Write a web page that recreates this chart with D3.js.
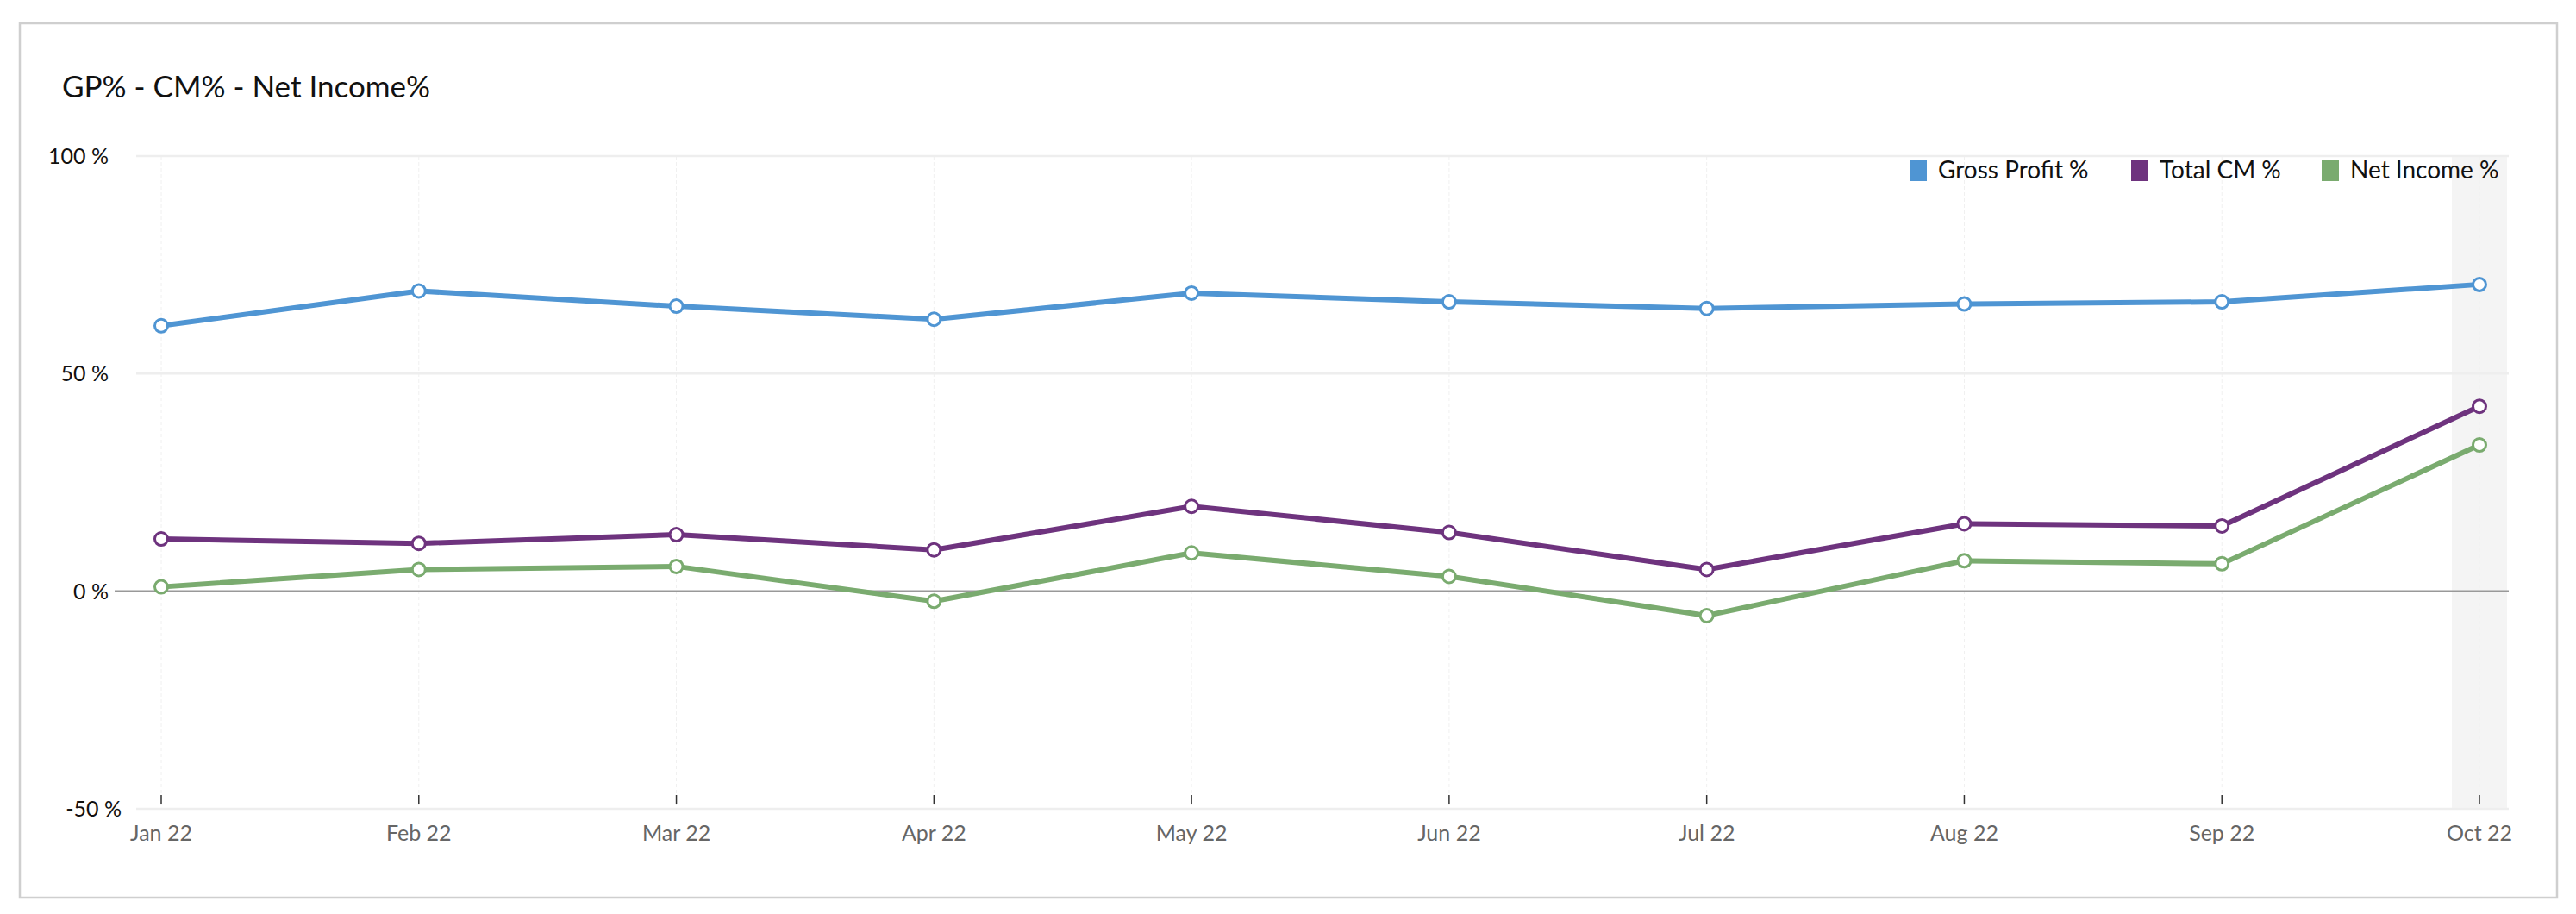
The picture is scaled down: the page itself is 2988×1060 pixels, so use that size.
<!DOCTYPE html>
<html><head><meta charset="utf-8">
<script src="https://cdn.jsdelivr.net/npm/d3@7"></script>
<style>body{margin:0;background:#fff}svg{font-family:Lato,"Noto Sans",sans-serif}</style>
</head><body><svg id="c" width="2988" height="1060"></svg>
<script>
const categories=["Jan 22","Feb 22","Mar 22","Apr 22","May 22","Jun 22","Jul 22","Aug 22","Sep 22","Oct 22"];
const grossProfit=[61,69,65.5,62.5,68.5,66.5,65,66,66.5,70.5];
const totalCM=[12,11,13,9.5,19.5,13.5,5,15.5,15,42.5];
const netIncome=[1,5,5.7,-2.3,8.8,3.4,-5.6,7,6.3,33.6];
const yTicks=[-50,0,50,100];
const seriesNames=["Gross Profit %","Total CM %","Net Income %"];
const colors=["#4f95d3","#6e337e","#7aab6f"];
const series=[grossProfit,totalCM,netIncome];

const svg=d3.select("#c");
svg.append("rect").attr("x",23).attr("y",27).attr("width",2943).attr("height",1014).attr("fill","#fff").attr("stroke","#cfcfcf").attr("stroke-width",2.5);
svg.append("text").attr("x",72).attr("y",113).attr("font-size",35).attr("fill","#111").text("GP% - CM% - Net Income%");

const x=d3.scalePoint().domain(categories).range([187,2876]);
const y=d3.scaleLinear().domain([-50,100]).range([938,181]);
svg.append("rect").attr("x",x("Oct 22")-32).attr("width",64).attr("y",y(100)).attr("height",y(-50)-y(100)).attr("fill","#f4f4f4");
svg.append("g").selectAll("line").data(categories).join("line")
 .attr("x1",d=>x(d)).attr("x2",d=>x(d)).attr("y1",y(100)).attr("y2",y(-50)).attr("stroke","#f0f0f0").attr("stroke-dasharray","4,3");
svg.append("g").selectAll("line").data(yTicks).join("line")
 .attr("x1",d=>d===0?133:158).attr("x2",2910).attr("y1",d=>y(d)).attr("y2",d=>y(d))
 .attr("stroke",d=>d===0?"#999":"#eeeeee").attr("stroke-width",2.5);
svg.append("g").selectAll("text").data(yTicks).join("text")
 .attr("x",d=>d===-50?141:126).attr("y",d=>y(d)+9).attr("text-anchor","end").attr("font-size",25).attr("fill","#111")
 .text(d=>d+" %");
const xa=svg.append("g");
xa.selectAll("line").data(categories).join("line").attr("x1",d=>x(d)).attr("x2",d=>x(d)).attr("y1",y(-50)-16).attr("y2",y(-50)-6).attr("stroke","#333").attr("stroke-width",1.5);
xa.selectAll("text").data(categories).join("text").attr("x",d=>x(d)).attr("y",975).attr("text-anchor","middle").attr("font-size",25).attr("fill","#666").text(d=>d);
const line=d3.line().x((d,i)=>x(categories[i])).y(d=>y(d));
series.forEach((s,k)=>{
 svg.append("path").datum(s).attr("d",line).attr("fill","none").attr("stroke",colors[k]).attr("stroke-width",6).attr("stroke-linejoin","round");
 svg.append("g").selectAll("circle").data(s).join("circle").attr("cx",(d,i)=>x(categories[i])).attr("cy",d=>y(d)).attr("r",7.5)
  .attr("fill","#fff").attr("stroke",colors[k]).attr("stroke-width",3);
});
const lx=[2215,2472,2693];
seriesNames.forEach((n,k)=>{
 svg.append("rect").attr("x",lx[k]).attr("y",186).attr("width",20).attr("height",24).attr("fill",colors[k]);
 svg.append("text").attr("x",lx[k]+33).attr("y",207).attr("font-size",28).attr("fill","#111").text(n);
});
</script></body></html>
